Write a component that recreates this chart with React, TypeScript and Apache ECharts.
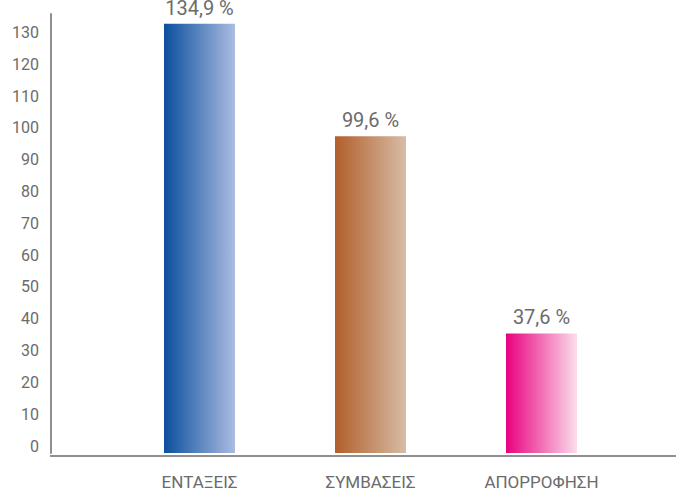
import React, { useEffect, useRef } from "react";
import * as echarts from "echarts";

const categories = ["ΕΝΤΑΞΕΙΣ", "ΣΥΜΒΑΣΕΙΣ", "ΑΠΟΡΡΟΦΗΣΗ"];
const values = [134.9, 99.6, 37.6];
const gradients = [
  ["#0b4f9d", "#abbce1"],
  ["#b25f2b", "#d7bca6"],
  ["#e9007f", "#fbdeeb"],
];

const FONT = "Roboto, 'Noto Sans', sans-serif";
const GRAY = "#6b6b6b";
const AXIS = "#8f8f8f";

export default function App() {
  const ref = useRef<HTMLDivElement>(null);
  useEffect(() => {
    if (!ref.current) return;
    const chart = echarts.init(ref.current, undefined, { renderer: "svg" });
    chart.setOption({
      animation: false,
      grid: { left: 114, right: 49, top: 14, bottom: 34 },
      xAxis: {
        type: "category",
        data: categories,
        axisLine: { show: false },
        axisTick: { show: false },
        axisLabel: {
          color: GRAY,
          fontFamily: FONT,
          fontSize: 17,
          margin: 20,
        },
      },
      yAxis: {
        type: "value",
        min: 0,
        max: 138,
        interval: 10,
        offset: 63,
        axisLine: { show: true, lineStyle: { color: AXIS, width: 2 } },
        axisTick: { show: false },
        splitLine: { show: false },
        axisLabel: {
          color: GRAY,
          fontFamily: FONT,
          fontSize: 16,
          margin: 12,
          verticalAlign: "bottom",
          lineHeight: 14,
          formatter: (v: number) => (v % 10 === 0 && v <= 130 ? String(v) : ""),
        },
      },
      graphic: [
        {
          type: "line",
          shape: { x1: 50, y1: 456, x2: 676, y2: 456 },
          style: { stroke: AXIS, lineWidth: 2 },
          z: 10,
        },
      ],
      series: [
        {
          type: "bar",
          barWidth: 71,
          data: values.map((v, i) => ({
            value: v,
            itemStyle: {
              color: new echarts.graphic.LinearGradient(0, 0, 1, 0, [
                { offset: 0, color: gradients[i][0] },
                { offset: 1, color: gradients[i][1] },
              ]),
            },
          })),
          label: {
            show: true,
            position: "top",
            distance: 6,
            color: GRAY,
            fontFamily: FONT,
            fontSize: 20,
            formatter: (p: any) => String(p.value).replace(".", ",") + " %",
          },
        },
      ],
    });
    return () => chart.dispose();
  }, []);
  return (
    <div
      ref={ref}
      style={{ position: "absolute", left: 0, top: 0, width: 676, height: 490 }}
    />
  );
}
